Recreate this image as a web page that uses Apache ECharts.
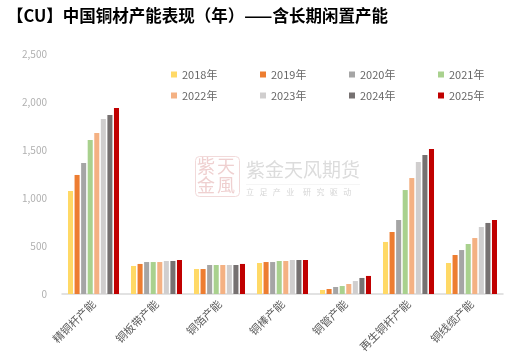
<!DOCTYPE html>
<html>
<head>
<meta charset="utf-8">
<script src="https://cdn.jsdelivr.net/npm/echarts@6/dist/echarts.min.js"></script>
<style>html,body{margin:0;padding:0;background:#fff;}#c{width:517px;height:363px;}</style>
</head>
<body>
<div id="c"></div>
<script>
const categories = ['精铜杆产能','铜板带产能','铜箔产能','铜棒产能','铜管产能','再生铜杆产能','铜线缆产能'];
const seriesNames = ['2018年','2019年','2020年','2021年','2022年','2023年','2024年','2025年'];
const v2018 = [1073, 292, 260, 323, 42, 542, 323];
const v2019 = [1240, 313, 260, 333, 52, 646, 406];
const v2020 = [1365, 333, 302, 333, 73, 771, 458];
const v2021 = [1604, 333, 302, 344, 83, 1083, 521];
const v2022 = [1677, 333, 302, 344, 104, 1208, 583];
const v2023 = [1823, 344, 302, 354, 135, 1375, 698];
const v2024 = [1865, 344, 302, 354, 167, 1448, 740];
const v2025 = [1938, 354, 313, 354, 188, 1510, 771];
const allValues = [v2018, v2019, v2020, v2021, v2022, v2023, v2024, v2025];
const colors = ['#ffd966','#ed7d31','#a5a5a5','#a9d18e','#f4b183','#d0cece','#767171','#c00000'];
const yTicks = {min: 0, max: 2500, interval: 500};

const font = '"Noto Sans CJK SC","Noto Sans",sans-serif';
const chart = echarts.init(document.getElementById('c'));
chart.setOption({
  animation: false,
  color: colors,
  title: {
    text: '【CU】中国铜材产能表现（年）——含长期闲置产能',
    left: 2, top: 2,
    textStyle: {fontSize: 16.5, fontWeight: 'bold', color: '#000', fontFamily: font}
  },
  legend: {
    data: seriesNames,
    left: 166, top: 64, width: 360,
    icon: 'rect', itemWidth: 6, itemHeight: 6, itemGap: 10,
    textStyle: {fontSize: 11, color: '#666666', width: 68, lineHeight: 11, fontFamily: font}
  },
  grid: {left: 62, right: 14, top: 54, bottom: 69},
  xAxis: {
    type: 'category', data: categories,
    axisLine: {lineStyle: {color: '#d9d9d9', width: 1.5}},
    axisTick: {show: false},
    axisLabel: {rotate: 45, margin: 8, fontSize: 11, color: '#595959', interval: 0, fontFamily: font}
  },
  yAxis: {
    type: 'value', min: yTicks.min, max: yTicks.max, interval: yTicks.interval,
    splitLine: {show: false},
    axisLine: {show: false}, axisTick: {show: false},
    axisLabel: {margin: 15, fontSize: 10, color: '#b0b0b0', fontFamily: font,
      formatter: v => v.toLocaleString('en-US')}
  },
  graphic: [
    {type: 'rect', left: 195, top: 156, shape: {width: 44, height: 40, r: 4},
     style: {fill: 'rgba(0,0,0,0)', stroke: '#f2dada', lineWidth: 1}, z: 0},
    {type: 'text', left: 197, top: 157, style: {text: '紫', fontSize: 18, fill: '#efd0d0', fontFamily: font}, z: 0},
    {type: 'text', left: 217, top: 157, style: {text: '天', fontSize: 18, fill: '#efd0d0', fontFamily: font}, z: 0},
    {type: 'text', left: 197, top: 176, style: {text: '金', fontSize: 18, fill: '#efd0d0', fontFamily: font}, z: 0},
    {type: 'text', left: 217, top: 176, style: {text: '風', fontSize: 18, fill: '#efd0d0', fontFamily: font}, z: 0},
    {type: 'text', left: 246, top: 160, style: {text: '紫金天风期货', fontSize: 19, fill: '#dcdcdc', fontFamily: font}, z: 0},
    {type: 'rect', left: 246, top: 184, shape: {width: 114, height: 0.5}, style: {fill: '#ececec'}, z: 0},
    {type: 'text', left: 246, top: 188, style: {text: '立   足   产   业     研   究   驱   动', fontSize: 8, fill: '#d6d6d6', fontFamily: font}, z: 0}
  ],
  series: seriesNames.map((n, i) => ({
    name: n, type: 'bar', data: allValues[i],
    barGap: '30%', barCategoryGap: '19%', z: 2
  }))
});
</script>
</body>
</html>
